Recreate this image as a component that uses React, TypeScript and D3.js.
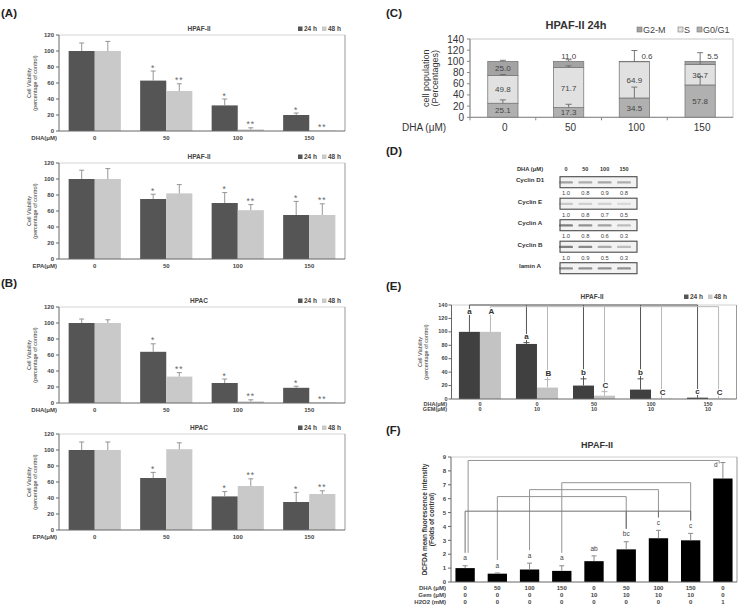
import React from "react";
import * as d3 from "d3";

const FONT = "'Liberation Sans', Arial, Helvetica, sans-serif";
const DARK = "#555555";
const LIGHT = "#c9c9c9";

// ---- (A)/(B) viability, 24 h vs 48 h ----
const doses = ["0", "50", "100", "150"];
const series = ["24 h", "48 h"];

const hpafDha24 = [100, 63, 32, 20];
const hpafDha48 = [100, 50, 2, 0.5];
const hpafDha24Err = [10, 12, 8, 2.5];
const hpafDha48Err = [12, 9, 2, 0];
const hpafDha24Sig = ["", "*", "*", "*"];
const hpafDha48Sig = ["", "**", "**", "**"];

const hpafEpa24 = [100, 75, 70, 55];
const hpafEpa48 = [100, 82, 61, 55];
const hpafEpa24Err = [11, 6, 13, 17];
const hpafEpa48Err = [13, 11, 7, 14];
const hpafEpa24Sig = ["", "*", "*", "*"];
const hpafEpa48Sig = ["", "", "**", "**"];

const hpacDha24 = [100, 64, 25, 19];
const hpacDha48 = [100, 33, 2, 0.5];
const hpacDha24Err = [5, 10, 5, 2];
const hpacDha48Err = [4, 5, 2, 0];
const hpacDha24Sig = ["", "*", "*", "*"];
const hpacDha48Sig = ["", "**", "**", "**"];

const hpacEpa24 = [100, 65, 42, 35];
const hpacEpa48 = [100, 101, 55, 45];
const hpacEpa24Err = [10, 7, 6, 12];
const hpacEpa48Err = [10, 8, 9, 4];
const hpacEpa24Sig = ["", "*", "*", "*"];
const hpacEpa48Sig = ["", "", "**", "**"];

// ---- (C) cell cycle ----
const phases = ["G2-M", "S", "G0/G1"];
const g0g1 = [25.1, 17.3, 34.5, 57.8];
const sPhase = [49.8, 71.7, 64.9, 36.7];
const g2m = [25.0, 11.0, 0.6, 5.5];
const g0g1Err = [6, 6, 19.5, 15];
const sPhaseErr = [1.5, 3, 20, 21];
const g2mErr = [2, 3, 0, 0];

// ---- (D) western blot ----
const blotLanes = ["0", "50", "100", "150"];
const blotProteins = ["Cyclin D1", "Cyclin E", "Cyclin A", "Cyclin B", "lamin A"];
const blotRatios = [
  [1.0, 0.8, 0.9, 0.8],
  [1.0, 0.8, 0.7, 0.5],
  [1.0, 0.8, 0.6, 0.3],
  [1.0, 0.9, 0.5, 0.3],
  [1.0, 1.0, 1.0, 1.0],
];
const blotShowRatio = [true, true, true, true, false];
const blotStrength = [0.5, 0.25, 0.7, 0.7, 0.6];

// ---- (E) DHA + GEM ----
const comboGroups = ["g0", "g1", "g2", "g3", "g4"];
const comboDha = ["0", "0", "50", "100", "150"];
const comboGem = ["0", "10", "10", "10", "10"];
const combo24 = [100, 82, 20, 14, 2];
const combo48 = [100, 17, 5, 0.5, 0.5];
const combo24Err = [20, 2, 10, 16, 0];
const combo48Err = [20, 12, 6, 0, 0];
const combo24Letters = ["a", "a", "b", "b", "c"];
const combo48Letters = ["A", "B", "C", "C", "C"];
const combo24Bracket = 140;
const combo48Bracket = 137.5;

// ---- (F) ROS ----
const rosDha = ["0", "50", "100", "150", "0", "50", "100", "150", "0"];
const rosGem = ["0", "0", "0", "0", "10", "10", "10", "10", "0"];
const rosH2o2 = ["0", "0", "0", "0", "0", "0", "0", "0", "1"];
const rosFold = [1.0, 0.6, 0.9, 0.8, 1.5, 2.35, 3.15, 3.0, 7.45];
const rosErr = [0.17, 0.05, 0.46, 0.37, 0.38, 0.55, 0.57, 0.5, 1.15];
const rosLetters = ["a", "a", "a", "a", "ab", "bc", "c", "c", "d"];
const rosBrackets = [
  { from: 0, to: [8], level: 8.75 },
  { from: 3, to: [7], level: 7.15 },
  { from: 2, to: [6], level: 6.65 },
  { from: 1, to: [5], level: 6.15 },
  { from: 0, to: [5, 6, 7], level: 5.1 },
];

const RotLabel = ({ x, y, lines, size, gap, bold = false }: any) => (
  <g>
    {lines.map((t: string, i: number) => (
      <text
        key={t}
        transform={`translate(${x + i * gap},${y}) rotate(-90)`}
        textAnchor="middle"
        fontSize={size}
        fontWeight={bold ? "bold" : "normal"}
        fill="#333"
      >
        {t}
      </text>
    ))}
  </g>
);

const PanelLabel = ({ x, y, text }: any) => (
  <text x={x} y={y} fontSize={11.5} fontWeight="bold" fill="#222">
    {text}
  </text>
);

const Legend2 = ({ x, y, gap }: any) => (
  <g fontSize={6.5} fontWeight="bold" fill="#444">
    {series.map((s, i) => (
      <g key={s} transform={`translate(${x + i * gap},${y})`}>
        <rect x={0} y={-4.5} width={4.5} height={4.5} fill={i === 0 ? DARK : LIGHT} />
        <text x={6} y={0}>
          {s}
        </text>
      </g>
    ))}
  </g>
);

type VProps = {
  top: number;
  bottom: number;
  title: string;
  xTitle: string;
  v24: number[];
  v48: number[];
  e24: number[];
  e48: number[];
  s24: string[];
  s48: string[];
};

function ViabilityChart({ top, bottom, title, xTitle, v24, v48, e24, e48, s24, s48 }: VProps) {
  const left = 59;
  const right = 345;
  const x = d3.scaleBand<string>().domain(doses).range([left, right]).paddingInner(0.27).paddingOuter(0.135);
  const sub = d3.scaleBand<string>().domain(series).range([0, x.bandwidth()]);
  const y = d3.scaleLinear().domain([0, 120]).range([bottom, top]);
  const ticks = d3.range(0, 121, 20);
  const sets = [
    { key: series[0], vals: v24, errs: e24, sig: s24, color: DARK },
    { key: series[1], vals: v48, errs: e48, sig: s48, color: LIGHT },
  ];
  return (
    <g>
      <line x1={left} x2={right} y1={y(120)} y2={y(120)} stroke="#d4d4d4" />
      <line x1={right} x2={right} y1={y(120)} y2={y(0)} stroke="#999" />
      {sets.map((s) =>
        s.vals.map((v, i) => {
          const bx = (x(doses[i]) as number) + (sub(s.key) as number);
          const cx = bx + sub.bandwidth() / 2;
          const et = y(v + s.errs[i]);
          return (
            <g key={s.key + i}>
              <rect x={bx} y={y(v)} width={sub.bandwidth()} height={y(0) - y(v)} fill={s.color} />
              {s.errs[i] > 0 && (
                <g stroke="#8a8a8a" strokeWidth={0.9}>
                  <line x1={cx} x2={cx} y1={y(v)} y2={et} />
                  <line x1={cx - 2.5} x2={cx + 2.5} y1={et} y2={et} />
                </g>
              )}
              {s.sig[i] && (
                <text x={cx} y={et - 0.5} textAnchor="middle" fontSize={8.5} fill="#666" letterSpacing={1}>
                  {s.sig[i]}
                </text>
              )}
            </g>
          );
        })
      )}
      <line x1={left} x2={left} y1={y(120)} y2={y(0)} stroke="#666" />
      <line x1={left} x2={right} y1={y(0)} y2={y(0)} stroke="#666" />
      {ticks.map((t) => (
        <g key={t}>
          <line x1={left - 3} x2={left} y1={y(t)} y2={y(t)} stroke="#666" />
          <text x={left - 5} y={y(t) + 2} textAnchor="end" fontSize={6} fontWeight="bold" fill="#444">
            {t}
          </text>
        </g>
      ))}
      {doses.map((d) => (
        <text
          key={d}
          x={(x(d) as number) + x.bandwidth() / 2}
          y={bottom + 9}
          textAnchor="middle"
          fontSize={6}
          fontWeight="bold"
          fill="#444"
        >
          {d}
        </text>
      ))}
      <text x={57} y={bottom + 9} textAnchor="end" fontSize={6} fontWeight="bold" fill="#444">
        {xTitle}
      </text>
      <text x={199} y={top - 4} textAnchor="middle" fontSize={6.5} fontWeight="bold" fill="#444">
        {title}
      </text>
      <Legend2 x={298} y={top - 4} gap={24} />
      <RotLabel x={31} y={(top + bottom) / 2} lines={["Cell Viability", "(percentage of control)"]} size={5.5} gap={6} />
    </g>
  );
}

function CellCycleChart() {
  const left = 470;
  const right = 733;
  const top = 39;
  const bottom = 117.3;
  const x = d3.scaleBand<string>().domain(doses).range([left, right]).paddingInner(0.54).paddingOuter(0.27);
  const y = d3.scaleLinear().domain([0, 140]).range([bottom, top]);
  const colors: Record<string, string> = { "G2-M": "#a3a3a3", S: "#e1e1e1", "G0/G1": "#b0b0b0" };
  const stackInput = doses.map((d, i) => ({ dose: d, "G0/G1": g0g1[i], S: sPhase[i], "G2-M": g2m[i] }));
  const stack = d3.stack<any>().keys(["G0/G1", "S", "G2-M"])(stackInput);
  const errs: Record<string, number[]> = { "G0/G1": g0g1Err, S: sPhaseErr, "G2-M": g2mErr };
  return (
    <g>
      <rect x={left} y={top} width={right - left} height={bottom - top} fill="none" stroke="#c8c8c8" />
      {stack.map((layer) =>
        layer.map((seg, i) => {
          const bx = x(doses[i]) as number;
          const bw = x.bandwidth();
          const cx = bx + bw / 2;
          const val = seg[1] - seg[0];
          const h = y(seg[0]) - y(seg[1]);
          const inside = h >= 9;
          const sErrBig = sPhaseErr[i] > 5;
          return (
            <g key={layer.key + i}>
              <rect x={bx} y={y(seg[1])} width={bw} height={h} fill={colors[layer.key]} stroke="#7a7a7a" strokeWidth={0.8} />
              {inside ? (
                <text x={cx} y={(y(seg[0]) + y(seg[1])) / 2 + 3} textAnchor="middle" fontSize={8} fill="#444">
                  {val.toFixed(1)}
                </text>
              ) : (
                <text
                  x={sErrBig ? cx + 7 : cx}
                  y={y(110) + 3}
                  textAnchor={sErrBig ? "start" : "middle"}
                  fontSize={8}
                  fill="#444"
                >
                  {val.toFixed(1)}
                </text>
              )}
            </g>
          );
        })
      )}
      {stack.map((layer) =>
        layer.map((seg, i) => {
          const e = errs[layer.key][i];
          if (e <= 0) return null;
          const cx = (x(doses[i]) as number) + x.bandwidth() / 2;
          return (
            <g key={"e" + layer.key + i} stroke="#6a6a6a" strokeWidth={0.9}>
              <line x1={cx} x2={cx} y1={y(seg[1])} y2={y(seg[1] + e)} />
              <line x1={cx - 3} x2={cx + 3} y1={y(seg[1] + e)} y2={y(seg[1] + e)} />
            </g>
          );
        })
      )}
      <line x1={left} x2={left} y1={top} y2={bottom} stroke="#888" />
      <line x1={left} x2={right} y1={bottom} y2={bottom} stroke="#888" />
      {d3.range(0, 141, 20).map((t) => (
        <g key={t}>
          <line x1={left - 3} x2={left} y1={y(t)} y2={y(t)} stroke="#888" />
          <text x={left - 6} y={y(t) + 3.5} textAnchor="end" fontSize={10} fill="#333">
            {t}
          </text>
        </g>
      ))}
      {doses.map((d) => (
        <g key={d}>
          <line
            x1={(x(d) as number) - (x.step() * x.paddingInner()) / 2}
            x2={(x(d) as number) - (x.step() * x.paddingInner()) / 2}
            y1={bottom}
            y2={bottom + 3}
            stroke="#888"
          />
          <text x={(x(d) as number) + x.bandwidth() / 2 + 2} y={bottom + 14} textAnchor="middle" fontSize={10} fill="#333">
            {d}
          </text>
        </g>
      ))}
      <text x={402} y={bottom + 14} fontSize={10} fill="#333">
        DHA (μM)
      </text>
      <text x={576} y={29} textAnchor="middle" fontSize={11} fontWeight="bold" fill="#333">
        HPAF-II  24h
      </text>
      <g fontSize={9} fill="#444">
        {phases.map((p, i) => {
          const lx = [637, 678, 697][i];
          return (
            <g key={p}>
              <rect x={lx} y={27} width={5} height={5} fill={colors[p]} stroke="#777" strokeWidth={0.6} />
              <text x={lx + 6} y={33}>
                {p}
              </text>
            </g>
          );
        })}
      </g>
      <RotLabel x={429} y={(top + bottom) / 2} lines={["cell population", "(Percentages)"]} size={9} gap={9} />
    </g>
  );
}

function Blot() {
  const lane = d3.scalePoint<string>().domain(blotLanes).range([566, 624]);
  const row = d3.scaleLinear().domain([0, 4]).range([176.7, 262.7]);
  return (
    <g>
      <text x={530} y={170.5} textAnchor="middle" fontSize={5.8} fontWeight="bold" fill="#333">
        DHA (μM)
      </text>
      {blotLanes.map((l) => (
        <text key={l} x={lane(l)} y={170.5} textAnchor="middle" fontSize={5.5} fontWeight="bold" fill="#333">
          {l}
        </text>
      ))}
      {blotProteins.map((p, r) => {
        const y0 = row(r);
        return (
          <g key={p}>
            <text x={530} y={y0 + 5.5} textAnchor="middle" fontSize={6.2} fontWeight="bold" fill="#333">
              {p}
            </text>
            <rect x={560} y={y0} width={77} height={11} fill="#f2f2f2" stroke="#4a4a4a" strokeWidth={1.1} />
            {blotLanes.map((l, k) => (
              <rect
                key={l}
                x={(lane(l) as number) - 7}
                y={y0 + 4.5}
                width={14}
                height={2.4}
                rx={1.2}
                fill="#505050"
                opacity={blotStrength[r] * (0.25 + 0.75 * blotRatios[r][k])}
              />
            ))}
            {blotShowRatio[r] &&
              blotLanes.map((l, k) => (
                <text key={"n" + l} x={lane(l)} y={y0 + 18.5} textAnchor="middle" fontSize={5.8} fill="#444">
                  {blotRatios[r][k].toFixed(1)}
                </text>
              ))}
          </g>
        );
      })}
    </g>
  );
}

function ComboChart() {
  const left = 451.5;
  const right = 736.5;
  const top = 305;
  const bottom = 399;
  const x = d3.scaleBand<string>().domain(comboGroups).range([left, right]).paddingInner(0.263).paddingOuter(0.13);
  const sub = d3.scaleBand<string>().domain(series).range([0, x.bandwidth()]);
  const y = d3.scaleLinear().domain([0, 140]).range([bottom, top]);
  const sets = [
    { key: series[0], vals: combo24, errs: combo24Err, letters: combo24Letters, color: "#404040", line: "#555", level: combo24Bracket },
    { key: series[1], vals: combo48, errs: combo48Err, letters: combo48Letters, color: "#c3c3c3", line: "#b8b8b8", level: combo48Bracket },
  ];
  const cxOf = (g: string, s: string) => (x(g) as number) + (sub(s) as number) + sub.bandwidth() / 2;
  return (
    <g>
      <line x1={left} x2={right} y1={top} y2={top} stroke="#d0d0d0" />
      <line x1={right} x2={right} y1={top} y2={bottom} stroke="#999" />
      {sets.map((s) => (
        <g key={s.key}>
          {s.vals.map((v, i) => {
            const bx = (x(comboGroups[i]) as number) + (sub(s.key) as number);
            return <rect key={i} x={bx} y={y(v)} width={sub.bandwidth()} height={y(0) - y(v)} fill={s.color} />;
          })}
          <line
            x1={cxOf(comboGroups[0], s.key)}
            x2={cxOf(comboGroups[comboGroups.length - 1], s.key)}
            y1={y(s.level)}
            y2={y(s.level)}
            stroke={s.line}
          />
          {s.vals.map((v, i) => {
            const cx = cxOf(comboGroups[i], s.key);
            const et = y(v + s.errs[i]);
            return (
              <g key={"l" + i}>
                <line x1={cx} x2={cx} y1={y(v)} y2={y(s.level)} stroke={s.line} />
                {s.errs[i] > 0 && i > 0 && <line x1={cx - 3} x2={cx + 3} y1={et} y2={et} stroke={s.line} />}
              </g>
            );
          })}
        </g>
      ))}
      {sets.map((s) =>
        s.vals.map((v, i) => (
          <text
            key={s.key + "t" + i}
            x={cxOf(comboGroups[i], s.key) + (s.key === series[1] ? 1 : 0)}
            y={y(v + s.errs[i]) - 4}
            textAnchor="middle"
            fontSize={8}
            fontWeight="bold"
            fill="#333"
            stroke="#fff"
            strokeWidth={2}
            paintOrder="stroke"
          >
            {s.letters[i]}
          </text>
        ))
      )}
      <line x1={left} x2={left} y1={top} y2={bottom} stroke="#666" />
      <line x1={left} x2={right} y1={bottom} y2={bottom} stroke="#666" />
      {d3.range(0, 141, 20).map((t) => (
        <g key={t}>
          <line x1={left - 3} x2={left} y1={y(t)} y2={y(t)} stroke="#666" />
          <text x={left - 4} y={y(t) + 1.5} textAnchor="end" fontSize={5.5} fontWeight="bold" fill="#444">
            {t}
          </text>
        </g>
      ))}
      {comboGroups.map((g, i) => (
        <g key={g} fontSize={5.5} fontWeight="bold" fill="#444" textAnchor="middle">
          <text x={(x(g) as number) + x.bandwidth() / 2} y={bottom + 6.5}>
            {comboDha[i]}
          </text>
          <text x={(x(g) as number) + x.bandwidth() / 2} y={bottom + 12}>
            {comboGem[i]}
          </text>
        </g>
      ))}
      <g fontSize={5.5} fontWeight="bold" fill="#444" textAnchor="end">
        <text x={447} y={bottom + 6.5}>
          DHA(μM)
        </text>
        <text x={447} y={bottom + 12}>
          GEM(μM)
        </text>
      </g>
      <text x={592} y={299} textAnchor="middle" fontSize={6.5} fontWeight="bold" fill="#444">
        HPAF-II
      </text>
      <Legend2 x={684} y={299} gap={24} />
      <RotLabel x={422} y={(top + bottom) / 2} lines={["Cell Viability", "(percentage of control)"]} size={5.5} gap={6} />
    </g>
  );
}

function RosChart() {
  const left = 451;
  const right = 737;
  const top = 457;
  const bottom = 582;
  const idx = rosFold.map((_, i) => String(i));
  const x = d3.scaleBand<string>().domain(idx).range([449, 739]).paddingInner(0.4).paddingOuter(0.2);
  const y = d3.scaleLinear().domain([0, 9]).range([bottom, top]);
  const cx = (i: number) => (x(String(i)) as number) + x.bandwidth() / 2;
  const maxLetter = 8.3;
  const letterVal = rosFold.map((v, i) => Math.min(v + rosErr[i] + 0.38, maxLetter));
  const letterShift = rosFold.map((v, i) => (v + rosErr[i] + 0.38 > maxLetter ? -7 : 0));
  const endX = (i: number) => cx(i) + (letterShift[i] < 0 ? -3.7 : 0);
  const endBottom = (i: number, level: number) => Math.min(level - 0.22, letterVal[i] + 0.55);
  const fromCount: Record<number, number> = {};
  return (
    <g>
      <line x1={left} x2={right} y1={top} y2={top} stroke="#cfcfcf" />
      <line x1={right} x2={right} y1={top} y2={bottom} stroke="#999" />
      {rosFold.map((v, i) => {
        const et = y(v + rosErr[i]);
        return (
          <g key={i}>
            <rect x={x(String(i))} y={y(v)} width={x.bandwidth()} height={y(0) - y(v)} fill="#000" />
            <line x1={cx(i)} x2={cx(i)} y1={y(v)} y2={et} stroke="#8a8a8a" />
            <line x1={cx(i) - 2.5} x2={cx(i) + 2.5} y1={et} y2={et} stroke="#8a8a8a" />
            <text x={cx(i) + letterShift[i]} y={y(letterVal[i])} textAnchor="middle" fontSize={6.5} fill="#444">
              {rosLetters[i]}
            </text>
          </g>
        );
      })}
      {rosBrackets.map((b, k) => {
        const n = fromCount[b.from] || 0;
        fromCount[b.from] = n + 1;
        const count = rosBrackets.filter((o) => o.from === b.from).length;
        const fx = cx(b.from) + (count - 1 - n) * 3;
        const last = b.to[b.to.length - 1];
        const stroke = k === rosBrackets.length - 1 ? "#6f6f6f" : "#949494";
        return (
          <g key={k} stroke={stroke} fill="none">
            <line x1={fx} x2={endX(last)} y1={y(b.level)} y2={y(b.level)} />
            <line x1={fx} x2={fx} y1={y(b.level)} y2={y(endBottom(b.from, b.level))} />
            {b.to.map((t) => (
              <line key={t} x1={endX(t)} x2={endX(t)} y1={y(b.level)} y2={y(endBottom(t, b.level))} />
            ))}
          </g>
        );
      })}
      <line x1={left} x2={left} y1={top} y2={bottom} stroke="#666" />
      <line x1={left} x2={right} y1={bottom} y2={bottom} stroke="#666" />
      {d3.range(0, 10).map((t) => (
        <g key={t}>
          <line x1={left - 3} x2={left} y1={y(t)} y2={y(t)} stroke="#666" />
          <text x={left - 5} y={y(t) + 2.2} textAnchor="end" fontSize={6} fontWeight="bold" fill="#444">
            {t}
          </text>
        </g>
      ))}
      {rosFold.map((_, i) => (
        <g key={"x" + i} fontSize={6} fontWeight="bold" fill="#444" textAnchor="middle">
          <text x={cx(i)} y={590}>
            {rosDha[i]}
          </text>
          <text x={cx(i)} y={597}>
            {rosGem[i]}
          </text>
          <text x={cx(i)} y={604}>
            {rosH2o2[i]}
          </text>
        </g>
      ))}
      <g fontSize={6} fontWeight="bold" fill="#444" textAnchor="end">
        <text x={446} y={590}>
          DHA (μM)
        </text>
        <text x={446} y={597}>
          Gem (μM)
        </text>
        <text x={446} y={604}>
          H2O2 (mM)
        </text>
      </g>
      <text x={597} y={448} textAnchor="middle" fontSize={9} fontWeight="bold" fill="#333">
        HPAF-II
      </text>
      <RotLabel
        x={427}
        y={(top + bottom) / 2}
        lines={["DCFDA mean fluorescence intensity", "(Folds of control)"]}
        size={6.5}
        gap={7}
        bold
      />
    </g>
  );
}

export default function App() {
  return (
    <svg
      width={740}
      height={606}
      viewBox="0 0 740 606"
      style={{ position: "absolute", left: 0, top: 0, background: "#fff" }}
      fontFamily={FONT}
    >
      <rect width={740} height={606} fill="#fff" />
      <PanelLabel x={1} y={17} text="(A)" />
      <ViabilityChart top={35} bottom={131} title="HPAF-II" xTitle="DHA(μM)" v24={hpafDha24} v48={hpafDha48} e24={hpafDha24Err} e48={hpafDha48Err} s24={hpafDha24Sig} s48={hpafDha48Sig} />
      <ViabilityChart top={163} bottom={259} title="HPAF-II" xTitle="EPA(μM)" v24={hpafEpa24} v48={hpafEpa48} e24={hpafEpa24Err} e48={hpafEpa48Err} s24={hpafEpa24Sig} s48={hpafEpa48Sig} />
      <PanelLabel x={1} y={287} text="(B)" />
      <ViabilityChart top={307} bottom={403} title="HPAC" xTitle="DHA(μM)" v24={hpacDha24} v48={hpacDha48} e24={hpacDha24Err} e48={hpacDha48Err} s24={hpacDha24Sig} s48={hpacDha48Sig} />
      <ViabilityChart top={434} bottom={530} title="HPAC" xTitle="EPA(μM)" v24={hpacEpa24} v48={hpacEpa48} e24={hpacEpa24Err} e48={hpacEpa48Err} s24={hpacEpa24Sig} s48={hpacEpa48Sig} />
      <PanelLabel x={386} y={17} text="(C)" />
      <CellCycleChart />
      <PanelLabel x={386} y={155} text="(D)" />
      <Blot />
      <PanelLabel x={386} y={290} text="(E)" />
      <ComboChart />
      <PanelLabel x={386} y={434} text="(F)" />
      <RosChart />
    </svg>
  );
}
